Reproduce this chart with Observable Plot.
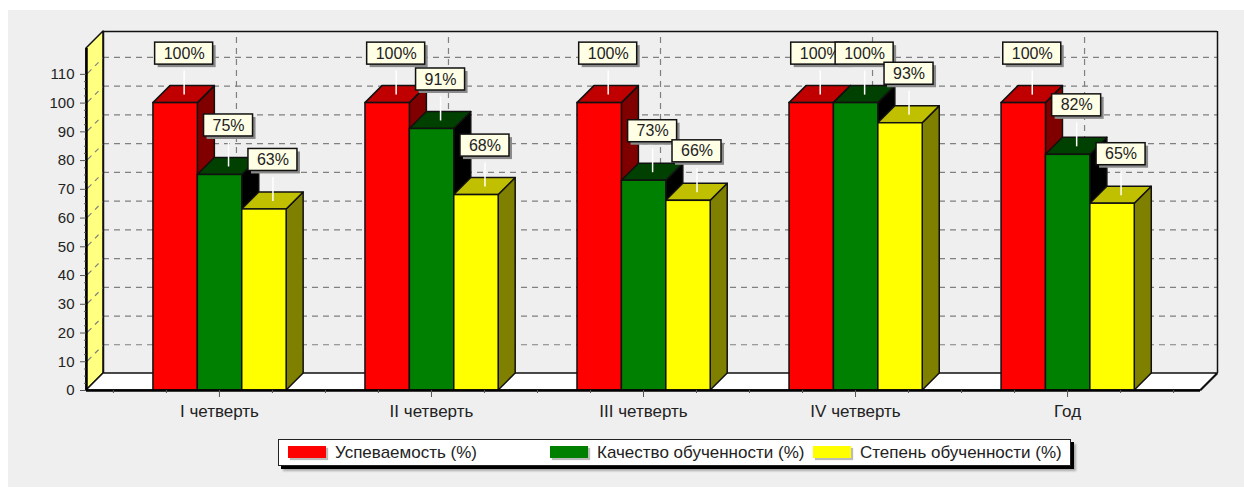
<!DOCTYPE html>
<html lang="ru">
<head>
<meta charset="utf-8">
<script src="https://cdn.jsdelivr.net/npm/d3@7"></script>
<script src="https://cdn.jsdelivr.net/npm/@observablehq/plot@0.6"></script>
<style>
html,body{margin:0;padding:0;background:#fff;overflow:hidden;width:1244px;height:488px}
#panel{position:absolute;left:8px;top:10px;width:1236px;height:477px;background:#efefef}
#chart{position:absolute;left:0;top:0}
#legend{position:absolute;left:278px;top:439px;width:793px;height:27px;box-sizing:border-box;background:#fff;border:1.5px solid #222;box-shadow:3px 3px 0 #000,5px 5px 2px #aaa;font:17px "Liberation Sans",Arial,sans-serif;color:#222}
#legend .it{position:absolute;top:0;height:25px;line-height:25px;white-space:nowrap}
#legend .sw{position:absolute;top:6px;left:-47px;width:38px;height:12px;box-shadow:2px 2px 1px #bbb}
</style>
</head>
<body>
<div id="panel"><div id="chart"></div></div>
<div id="legend"></div>
<script>
const categories = ["I четверть", "II четверть", "III четверть", "IV четверть", "Год"];
const seriesNames = ["Успеваемость (%)", "Качество обученности (%)", "Степень обученности (%)"];
const uspevaemost = [100, 100, 100, 100, 100];
const kachestvo = [75, 91, 73, 100, 82];
const stepen = [63, 68, 66, 93, 65];
const frontColors = ["#ff0000", "#008000", "#ffff00"];
const topColors = ["#c00000", "#004000", "#c0c000"];
const sideColors = ["#800000", "#000000", "#808000"];
const yTicks = [0, 10, 20, 30, 40, 50, 60, 70, 80, 90, 100, 110];

const allValues = [uspevaemost, kachestvo, stepen];
const xMin = -0.627, xMax = 4.627, yMax = 119;
const pxX = 1 / 212, pxY = 1 / 2.875;          // one pixel in data units
const depthX = 17 * pxX, depthY = 17 * pxY;    // 3D depth of the scene
const barW = 44.4 * pxX, barStart = -66 * pxX;

const bars = allValues.flatMap((vals, s) => vals.map((v, i) => {
  const x1 = i + barStart + s * barW;
  return {s, i, v, x1, x2: x1 + barW, id: s + "-" + i};
}));

const dash = "6 5";
const gridC = "#808080";
const edge = "#111";

// scene: wall, floor, back frame, grid
const marks = [
  Plot.areaY([{x: xMin, y1: 0, y2: yMax}, {x: xMin + depthX, y1: depthY, y2: yMax + depthY}],
    {x: "x", y1: "y1", y2: "y2", fill: "#ffff80", stroke: edge, strokeWidth: 1.5}),
  Plot.areaX([{y: 0, x1: xMin, x2: xMax}, {y: depthY, x1: xMin + depthX, x2: xMax + depthX}],
    {y: "y", x1: "x1", x2: "x2", fill: "#fff", stroke: edge, strokeWidth: 1.5}),
  Plot.ruleY(yTicks.slice(1), {y: d => d + depthY, x1: xMin + depthX, x2: xMax + depthX, stroke: gridC, strokeWidth: 1.2, strokeDasharray: dash, strokeOpacity: 1}),
  Plot.ruleX(categories.map((c, i) => i), {x: d => d + depthX, y1: depthY, y2: yMax + depthY, stroke: gridC, strokeWidth: 1.2, strokeDasharray: dash, strokeOpacity: 1}),
  Plot.link(yTicks.slice(1), {x1: xMin, y1: d => d, x2: xMin + depthX, y2: d => d + depthY, stroke: gridC, strokeWidth: 1.2, strokeDasharray: "7 5 5 5"}),
  Plot.ruleY([yMax + depthY], {x1: xMin + depthX, x2: xMax + depthX, stroke: edge, strokeWidth: 1.5}),
  Plot.ruleX([xMax + depthX], {y1: depthY, y2: yMax + depthY, stroke: edge, strokeWidth: 1.5}),
  Plot.ruleX([xMin + depthX], {y1: depthY, y2: yMax + depthY, stroke: edge, strokeWidth: 1.5}),
  Plot.link([0], {x1: xMax, y1: 0, x2: xMax + depthX, y2: depthY, stroke: edge, strokeWidth: 1.5}),
];

// bars, one series after the other so that nearer faces cover farther ones
allValues.forEach((vals, s) => {
  const own = bars.filter(b => b.s === s);
  const sideRows = own.flatMap(b => [
    {id: b.id, x: b.x2, y1: 0, y2: b.v},
    {id: b.id, x: b.x2 + depthX, y1: depthY, y2: b.v + depthY}
  ]);
  const topRows = own.flatMap(b => [
    {id: b.id, y: b.v, x1: b.x1, x2: b.x2},
    {id: b.id, y: b.v + depthY, x1: b.x1 + depthX, x2: b.x2 + depthX}
  ]);
  marks.push(
    Plot.areaY(sideRows, {x: "x", y1: "y1", y2: "y2", z: "id", fill: sideColors[s], stroke: edge, strokeWidth: 1.5}),
    Plot.areaX(topRows, {y: "y", x1: "x1", x2: "x2", z: "id", fill: topColors[s], stroke: edge, strokeWidth: 1.5}),
    Plot.rectY(own, {x1: "x1", x2: "x2", y1: 0, y2: "v", fill: frontColors[s], stroke: edge, strokeWidth: 1.5})
  );
});

// front axis lines and ticks
marks.push(
  Plot.ruleY([0], {x1: xMin, x2: xMax, stroke: "#000", strokeWidth: 2.5}),
  Plot.ruleX([xMin], {y1: 0, y2: yMax, stroke: "#000", strokeWidth: 2.5}),
  Plot.axisY({ticks: d3.range(0, 112.5, 2.5).filter(d => d % 10 !== 0), tickSize: 2, fill: "none", label: null, stroke: "#555"}),
  Plot.axisY({ticks: yTicks, tickSize: 6, tickPadding: 6, label: null, stroke: "#555", fill: "#222", fontSize: 15}),
  Plot.axisX({ticks: d3.range(-0.5, 4.75, 0.25).filter(d => d % 1 !== 0), tickSize: 3, fill: "none", label: null, stroke: "#555"}),
  Plot.axisX({ticks: categories.map((c, i) => i), tickSize: 7, tickPadding: 7, tickFormat: i => categories[i], label: null, stroke: "#555", fill: "#222", fontSize: 17})
);

// callouts, each painted in turn so a later one covers an earlier one
const boxH = 22 * pxY, lift = 41 * pxY, leader = 24 * pxY;
bars.forEach(b => {
  const cx = (b.x1 + b.x2) / 2 + depthX / 2;
  const cy = b.v + depthY / 2;
  const hw = (b.v === 100 ? 29 : 24.5) * pxX;
  const box = [{x1: cx - hw, x2: cx + hw, y1: cy + lift - boxH / 2, y2: cy + lift + boxH / 2}];
  marks.push(
    Plot.link([b], {x1: cx, x2: cx, y1: cy, y2: cy + leader, stroke: "#fff", strokeWidth: 1.5}),
    Plot.rect(box, {x1: "x1", x2: "x2", y1: "y1", y2: "y2", fill: "#8a8a8a", dx: 3, dy: 3}),
    Plot.rect(box, {x1: "x1", x2: "x2", y1: "y1", y2: "y2", fill: "#ffffe6", stroke: edge, strokeWidth: 1.5}),
    Plot.text([b], {x: cx, y: cy + lift, text: d => d.v + "%", fill: "#222", fontSize: 16})
  );
});

const chart = Plot.plot({
  width: 1236, height: 430,
  marginLeft: 78, marginRight: 44, marginTop: 38, marginBottom: 50,
  x: {type: "linear", domain: [xMin, xMax]},
  y: {type: "linear", domain: [0, yMax]},
  style: {background: "transparent", fontFamily: '"Liberation Sans",Arial,sans-serif', fontSize: "14px", color: "#222", overflow: "visible"},
  marks
});
document.getElementById("chart").appendChild(chart);

const legendLeft = [56, 318, 581];
const legend = document.getElementById("legend");
seriesNames.forEach((name, s) => {
  const it = document.createElement("div");
  it.className = "it";
  it.style.left = legendLeft[s] + "px";
  it.textContent = name;
  const sw = document.createElement("span");
  sw.className = "sw";
  sw.style.background = frontColors[s];
  it.appendChild(sw);
  legend.appendChild(it);
});
</script>
</body>
</html>
